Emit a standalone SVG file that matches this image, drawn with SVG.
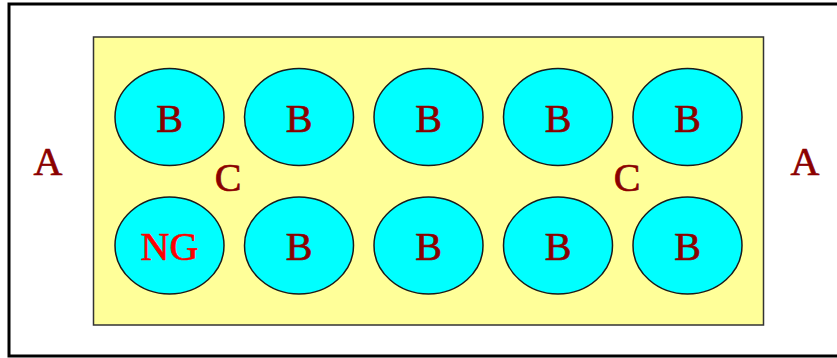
<svg xmlns="http://www.w3.org/2000/svg" width="837" height="358" viewBox="0 0 837 358">
<style>
.t{font-family:"Liberation Serif","Times New Roman",serif;font-size:40px;text-anchor:middle;fill:#8b0000;stroke:#8b0000;stroke-width:0.7}
.ng{fill:#ff0000;stroke:#ff0000}
.c{fill:#00ffff;stroke:#1a1a1a;stroke-width:1.5}
</style>
<rect x="0" y="0" width="837" height="358" fill="#ffffff"/>
<rect id="frame" x="9" y="4" width="830" height="352" fill="#ffffff" stroke="#000000" stroke-width="3"/>
<rect id="tray" x="93.5" y="37" width="670" height="288" fill="#ffff99" stroke="#333333" stroke-width="1.5"/>
<g id="label-A-left"><text class="t" x="48" y="175">A</text></g>
<g id="label-A-right"><text class="t" x="805" y="175">A</text></g>
<g id="label-C-left"><text class="t" x="228" y="191">C</text></g>
<g id="label-C-right"><text class="t" x="627" y="191">C</text></g>
<g id="b1"><ellipse class="c" cx="169.5" cy="117" rx="54.5" ry="48.5"/><text class="t" x="169.5" y="132">B</text></g>
<g id="b2"><ellipse class="c" cx="299" cy="117" rx="54.5" ry="48.5"/><text class="t" x="299" y="132">B</text></g>
<g id="b3"><ellipse class="c" cx="428.5" cy="117" rx="54.5" ry="48.5"/><text class="t" x="428.5" y="132">B</text></g>
<g id="b4"><ellipse class="c" cx="558" cy="117" rx="54.5" ry="48.5"/><text class="t" x="558" y="132">B</text></g>
<g id="b5"><ellipse class="c" cx="687.5" cy="117" rx="54.5" ry="48.5"/><text class="t" x="687.5" y="132">B</text></g>
<g id="ng"><ellipse class="c" cx="169.5" cy="245.5" rx="54.5" ry="48.5"/><text class="t ng" x="169.5" y="260">NG</text></g>
<g id="b7"><ellipse class="c" cx="299" cy="245.5" rx="54.5" ry="48.5"/><text class="t" x="299" y="260">B</text></g>
<g id="b8"><ellipse class="c" cx="428.5" cy="245.5" rx="54.5" ry="48.5"/><text class="t" x="428.5" y="260">B</text></g>
<g id="b9"><ellipse class="c" cx="558" cy="245.5" rx="54.5" ry="48.5"/><text class="t" x="558" y="260">B</text></g>
<g id="b10"><ellipse class="c" cx="687.5" cy="245.5" rx="54.5" ry="48.5"/><text class="t" x="687.5" y="260">B</text></g>
<g id="connectors"></g>
</svg>
